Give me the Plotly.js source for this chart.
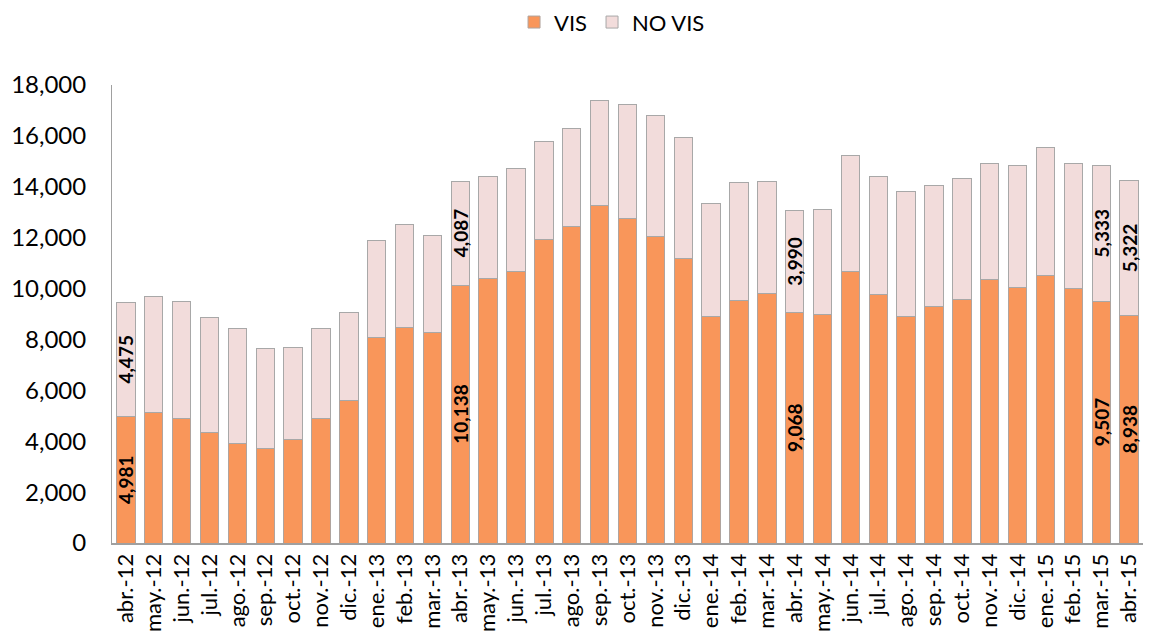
<!DOCTYPE html>
<html>
<head>
<meta charset="utf-8">
<script src="https://cdn.plot.ly/plotly-3.0.1.min.js"></script>
<style>html,body{margin:0;padding:0;background:#fff;}#chart{width:1149px;height:644px;}</style>
</head>
<body>
<div id="chart"></div>
<script>
const categories = ["abr.-12","may.-12","jun.-12","jul.-12","ago.-12","sep.-12","oct.-12","nov.-12","dic.-12",
  "ene.-13","feb.-13","mar.-13","abr.-13","may.-13","jun.-13","jul.-13","ago.-13","sep.-13","oct.-13","nov.-13","dic.-13",
  "ene.-14","feb.-14","mar.-14","abr.-14","may.-14","jun.-14","jul.-14","ago.-14","sep.-14","oct.-14","nov.-14","dic.-14",
  "ene.-15","feb.-15","mar.-15","abr.-15"];
const vis = [4981,5140,4880,4350,3930,3700,4060,4900,5600,
  8090,8480,8280,10138,10400,10660,11940,12430,13250,12770,12030,11180,
  8890,9540,9800,9068,8970,10670,9750,8900,9300,9580,10340,10050,
  10500,10010,9507,8938];
const noVis = [4475,4540,4630,4520,4510,3950,3610,3540,3460,
  3790,4020,3820,4087,4000,4070,3840,3880,4140,4460,4780,4770,
  4450,4640,4410,3990,4120,4540,4670,4930,4770,4750,4580,4790,
  5040,4900,5333,5322];
const labeledVis = ["abr.-12","abr.-13","abr.-14","mar.-15","abr.-15"];
const labeledNoVis = ["abr.-12","abr.-13","abr.-14","mar.-15","abr.-15"];

const fmt = v => v.toLocaleString('en-US');
const visText = categories.map((c,i) => labeledVis.includes(c) ? fmt(vis[i]) : '');
const noVisText = categories.map((c,i) => labeledNoVis.includes(c) ? fmt(noVis[i]) : '');

const labelFont = {family: 'Lato, "Open Sans", sans-serif', size: 19, color: '#000', weight: 'bold'};

const traces = [
  {type:'bar', name:'VIS', x:categories, y:vis, text:visText, textposition:'inside',
   insidetextanchor:'middle', textangle:-90, textfont:labelFont, constraintext:'none',
   marker:{color:'#f9965a', line:{color:'#b0a49e', width:1}}, hoverinfo:'y'},
  {type:'bar', name:'NO VIS', x:categories, y:noVis, text:noVisText, textposition:'inside',
   insidetextanchor:'middle', textangle:-90, textfont:labelFont, constraintext:'none',
   marker:{color:'#f2dcdb', line:{color:'#a8a8a8', width:1}}, hoverinfo:'y'}
];

const layout = {
  width:1149, height:644,
  margin:{l:112, r:6, t:85, b:101, autoexpand:false},
  barmode:'stack', bargap:0.34,
  paper_bgcolor:'#fff', plot_bgcolor:'#fff',
  font:{family:'Lato, "Open Sans", sans-serif', color:'#000', size:22},
  showlegend:true,
  legend:{orientation:'h', x:0.485, xanchor:'center', y:1.137, yanchor:'middle',
    font:{size:22, color:'#000'}, traceorder:'normal', itemwidth:30},
  xaxis:{type:'category', tickmode:'array', tickvals:categories, ticktext:categories,
    tickangle:-90, tickfont:{size:22, color:'#000'},
    showline:true, linecolor:'#a0a0a0', linewidth:2, ticks:'', showgrid:false,
    range:[-0.5, 36.5]},
  yaxis:{range:[0,18000], dtick:2000, tickformat:',', showgrid:false, zeroline:false,
    showline:true, linecolor:'#a0a0a0', linewidth:1, ticks:'', tickfont:{size:24, color:'#000'},
    ticklabelstandoff:20}
};

Plotly.newPlot('chart', traces, layout, {displayModeBar:false, staticPlot:true});
</script>
</body>
</html>
